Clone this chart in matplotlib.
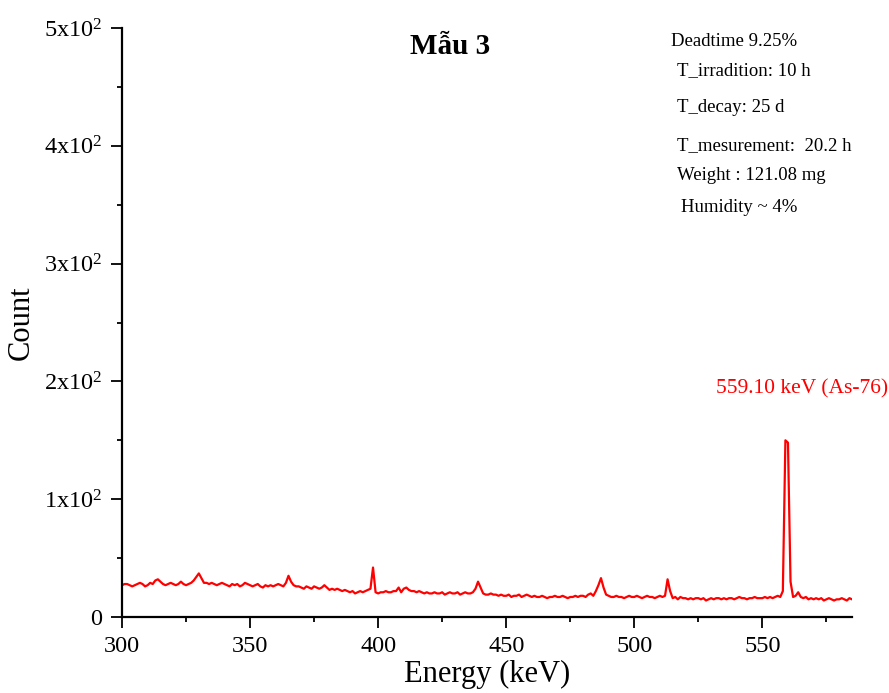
import numpy as np
import matplotlib
matplotlib.use("Agg")
import matplotlib.pyplot as plt
from matplotlib.ticker import MultipleLocator, FixedLocator, FixedFormatter

plt.rcParams['font.family'] = ['Liberation Serif', 'DejaVu Serif']
plt.rcParams['mathtext.fontset'] = 'custom'
plt.rcParams['mathtext.rm'] = 'Liberation Serif'
plt.rcParams['mathtext.it'] = 'Liberation Serif:italic'
plt.rcParams['mathtext.bf'] = 'Liberation Serif:bold'

# Gamma spectrum, 1 keV bins from 300 keV to 585 keV
energy_start = 300
counts = [
    27, 28, 28, 27, 26, 27, 28, 29, 28, 26,   # 300
    27, 29, 28, 31, 32, 30, 28, 27, 28, 29,   # 310
    28, 27, 28, 30, 28, 27, 28, 29, 31, 34,   # 320
    37, 33, 29, 29, 28, 29, 28, 27, 28, 29,   # 330
    28, 27, 26, 28, 27, 28, 26, 27, 29, 28,   # 340
    27, 26, 27, 28, 26, 25, 27, 26, 27, 26,   # 350
    27, 28, 27, 26, 29, 35, 30, 27, 26, 26,   # 360
    25, 24, 26, 25, 24, 26, 25, 24, 25, 27,   # 370
    25, 23, 24, 23, 24, 23, 22, 23, 22, 21,   # 380
    22, 20, 21, 22, 21, 22, 23, 24, 42, 21,   # 390
    20, 21, 21, 22, 21, 21, 22, 22, 25, 21,   # 400
    24, 25, 23, 22, 22, 21, 22, 21, 20, 21,   # 410
    20, 20, 21, 20, 20, 21, 19, 20, 21, 20,   # 420
    20, 21, 19, 20, 21, 20, 20, 21, 24, 30,   # 430
    25, 20, 19, 19, 20, 19, 19, 18, 19, 18,   # 440
    18, 19, 17, 18, 18, 19, 17, 18, 19, 18,   # 450
    17, 18, 17, 17, 18, 17, 16, 17, 17, 18,   # 460
    17, 17, 18, 17, 16, 17, 17, 18, 17, 18,   # 470
    18, 17, 19, 20, 18, 22, 27, 33, 25, 19,   # 480
    18, 17, 17, 18, 17, 17, 16, 17, 18, 17,   # 490
    17, 18, 17, 16, 17, 18, 17, 17, 16, 17,   # 500
    18, 17, 18, 32, 22, 16, 17, 15, 17, 16,   # 510
    16, 15, 16, 15, 16, 16, 15, 16, 14, 15,   # 520
    16, 15, 16, 16, 15, 16, 15, 16, 16, 15,   # 530
    16, 17, 16, 16, 15, 16, 16, 17, 16, 16,   # 540
    16, 17, 16, 17, 16, 17, 18, 17, 22, 150,  # 550
    148, 30, 17, 18, 21, 17, 16, 17, 15, 16,  # 560
    15, 16, 15, 16, 14, 15, 16, 15, 14, 15,   # 570
    15, 16, 15, 14, 16, 15,                   # 580
]
energy = energy_start + np.arange(len(counts))

y_tick_values = [0, 100, 200, 300, 400, 500]
y_tick_labels = ['0', r'1x10$^2$', r'2x10$^2$', r'3x10$^2$', r'4x10$^2$', r'5x10$^2$']
x_tick_values = [300, 350, 400, 450, 500, 550]

info_lines = [
    ("Deadtime 9.25%", 671, 41),
    ("T_irradition: 10 h", 677, 71),
    ("T_decay: 25 d", 677, 108),
    ("T_mesurement:  20.2 h", 677, 146),
    ("Weight : 121.08 mg", 677, 176),
    ("Humidity ~ 4%", 681, 207),
]

W, H = 889, 693
fig = plt.figure(figsize=(W / 100, H / 100), dpi=100)
ax = fig.add_axes([122 / W, 1 - 617 / H, (852 - 122) / W, (617 - 28) / H])

ax.plot(energy, counts, color='#ff0000', lw=1.6)

ax.set_xlim(300, 585)
ax.set_ylim(0, 500)

ax.yaxis.set_major_locator(FixedLocator(y_tick_values))
ax.yaxis.set_major_formatter(FixedFormatter(y_tick_labels))
ax.yaxis.set_minor_locator(MultipleLocator(50))
ax.xaxis.set_major_locator(FixedLocator(x_tick_values))
ax.xaxis.set_minor_locator(MultipleLocator(25))

for side in ('top', 'right'):
    ax.spines[side].set_visible(False)
for side in ('left', 'bottom'):
    ax.spines[side].set_linewidth(1.6)

ax.tick_params(which='major', direction='out', length=8, width=1.3, labelsize=17.5, pad=6)
ax.tick_params(which='minor', direction='out', length=3.5, width=1.3)

ax.set_xlabel('Energy (keV)', fontsize=22, labelpad=2)
ax.set_ylabel('Count', fontsize=22, labelpad=6)

fig.text(450 / W, 1 - 47 / H, 'Mẫu 3', fontsize=21, fontweight='bold',
         ha='center', va='center')

for text, px, py in info_lines:
    fig.text(px / W, 1 - py / H, text, fontsize=13.5, ha='left', va='center')

fig.text(716 / W, 1 - 389 / H, '559.10 keV (As-76)', fontsize=15.5,
         color='#ff0000', ha='left', va='center')

fig.savefig('out.png', dpi=100)
